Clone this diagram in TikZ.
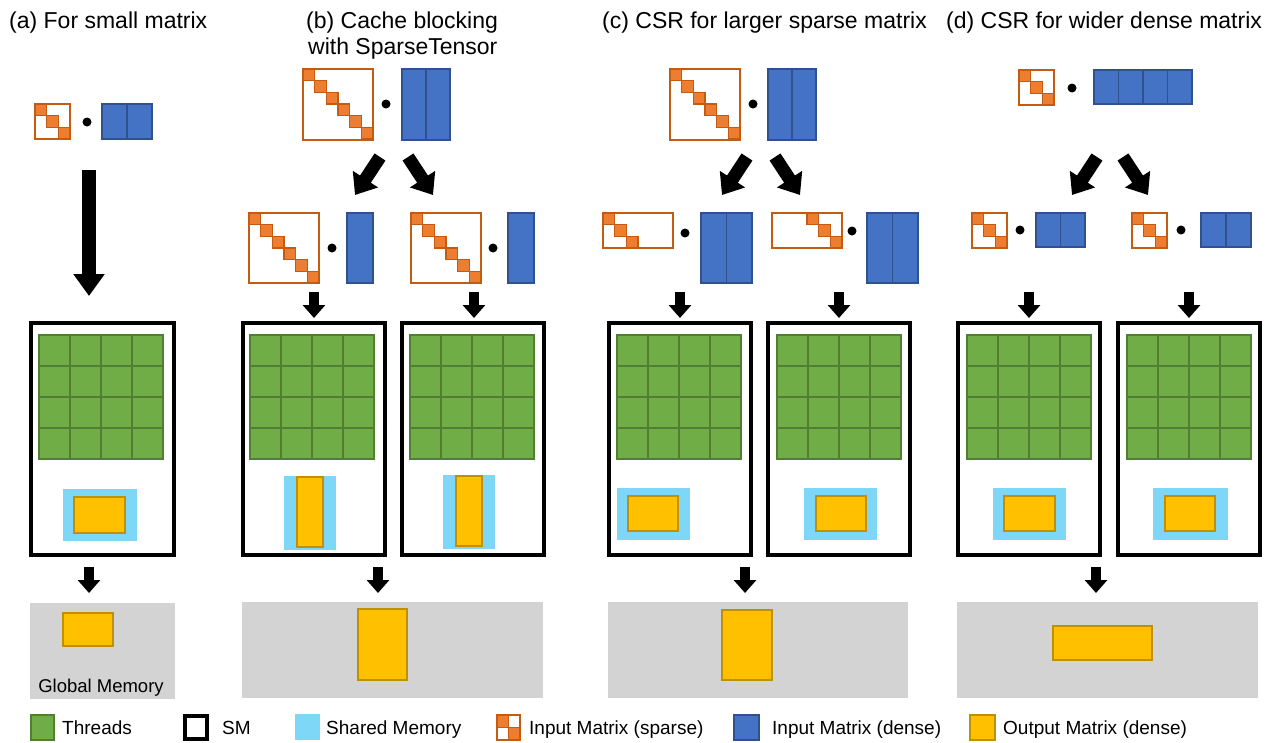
\documentclass[tikz,border=0pt]{standalone}
\usepackage{fontspec}
\setmainfont{Liberation Sans}
\usetikzlibrary{arrows.meta}
\definecolor{thrG}{HTML}{70AD47}
\definecolor{thrL}{HTML}{507E32}
\definecolor{shmC}{HTML}{7FD7F7}
\definecolor{outY}{HTML}{FFC000}
\definecolor{outL}{HTML}{BF9000}
\definecolor{inB}{HTML}{4472C4}
\definecolor{inL}{HTML}{2F528F}
\definecolor{spO}{HTML}{ED7D31}
\definecolor{spL}{HTML}{C55A11}
\definecolor{memG}{HTML}{D3D3D3}
\tikzset{
  sparseline/.style={draw=spL, line width=2pt, fill=white},
  sparseblk/.style={draw=spL, line width=1.5pt, fill=spO},
  densecol/.style={draw=inL, line width=1.5pt, fill=inB},
  thread/.style={draw=thrL, line width=1.7pt, fill=thrG},
  smbox/.style={draw=black, line width=4pt, fill=none, inner sep=0pt, outer sep=0pt, anchor=north west},
  shmem/.style={fill=shmC, draw=none},
  outmat/.style={fill=outY, draw=outL, line width=1.5pt},
  gmem/.style={fill=memG, draw=none},
  bigarrow/.style={line width=14pt, -{Triangle[width=30pt,length=22pt]}},
  diagarrow/.style={line width=13pt, -{Triangle[width=29pt,length=19pt]}},
  smallarrow/.style={line width=10pt, -{Triangle[width=22pt,length=13pt]}},
  ttl/.style={anchor=base west, inner sep=0pt, font=\fontsize{23}{27}\selectfont},
  lgd/.style={anchor=base west, inner sep=0pt, font=\fontsize{19}{23}\selectfont},
  dotn/.style={circle, fill=black, inner sep=0pt, minimum size=9pt},
}
% sparse matrix: x, y, w, h, list of col/row blocks
\newcommand\spmat[5]{%
  \draw[sparseline] (#1,#2) rectangle ++(#3,#4);
  \foreach \c/\r in {#5} \draw[sparseblk] ({#1+\c*11.67},{#2+\r*11.67}) rectangle ++(11.67,11.67);
}
% dense matrix: x, y, w, h, ncols
\newcommand\dmat[5]{%
  \foreach \k in {1,...,#5} \draw[densecol] ({#1+(\k-1)*#3/#5},#2) rectangle ++({#3/#5},#4);
}
% threads grid at x,y
\newcommand\tgrid[2]{%
  \foreach \i in {0,...,3} \foreach \j in {0,...,3}
    \draw[thread] ({#1+\i*31},{#2+\j*31}) rectangle ++(31,31);
}
\begin{document}
\begin{tikzpicture}[x=1pt,y=-1pt]
\useasboundingbox (0,0) rectangle (1276,742);
\fill[white] (0,0) rectangle (1276,742);

% ---------------- titles
\node[ttl] (ta) at (9,28) {(a) For small matrix};
\node[ttl] (tb1) at (306,28) {(b) Cache blocking};
\node[ttl] (tb2) at (308,54) {with SparseTensor};
\node[ttl] (tc) at (602,28) {(c) CSR for larger sparse matrix};
\node[ttl] (td) at (946,28) {(d) CSR for wider dense matrix};

% ---------------- (a)
\spmat{35}{104}{35}{35}{0/0,1/1,2/2}
\node[dotn] (da) at (87,122) {};
\dmat{102}{104}{50}{35}{2}
\draw[bigarrow] (89,170) -- (89,296);
\node[smbox, minimum width=143pt, minimum height=232pt] (smA) at (31,323) {};
\tgrid{39}{335}
\fill[shmem] (63,489) rectangle (137,541);
\draw[outmat] (74,497) rectangle (125,533);
\draw[smallarrow] (89,567) -- (89,593);
\fill[gmem] (30,603) rectangle (175,699);
\draw[outmat] (63,613) rectangle (113,646);
\node[anchor=base, inner sep=0pt, font=\fontsize{18.5}{22}\selectfont] (gm) at (101,692) {Global Memory};

% ---------------- (b)
\spmat{303}{69}{70}{71}{0/0,1/1,2/2,3/3,4/4,5/5}
\node[dotn] (db) at (386,104) {};
\dmat{402}{69}{48}{71}{2}
\draw[diagarrow] (380,157) -- (355,195);
\draw[diagarrow] (408,157) -- (433,195);
\spmat{249}{213}{70}{70}{0/0,1/1,2/2,3/3,4/4,5/5}
\node[dotn] (db1) at (332,248) {};
\dmat{347}{213}{26}{70}{1}
\spmat{411}{213}{70}{70}{0/0,1/1,2/2,3/3,4/4,5/5}
\node[dotn] (db2) at (493,248) {};
\dmat{508}{213}{26}{70}{1}
\draw[smallarrow] (314,292) -- (314,318);
\draw[smallarrow] (474,292) -- (474,318);
\node[smbox, minimum width=142pt, minimum height=232pt] (smB1) at (243,323) {};
\node[smbox, minimum width=142pt, minimum height=232pt] (smB2) at (402,323) {};
\tgrid{250}{335}
\tgrid{410}{335}
\fill[shmem] (284,476) rectangle (336,550);
\draw[outmat] (297,477) rectangle (323,547);
\fill[shmem] (443,475) rectangle (495,549);
\draw[outmat] (456,476) rectangle (482,546);
\draw[smallarrow] (378,567) -- (378,593);
\fill[gmem] (242,602) rectangle (543,698);
\draw[outmat] (358,609) rectangle (407,680);

% ---------------- (c)
\spmat{670}{69}{70}{71}{0/0,1/1,2/2,3/3,4/4,5/5}
\node[dotn] (dc) at (753,104) {};
\dmat{768}{69}{48}{71}{2}
\draw[diagarrow] (747,157) -- (722,195);
\draw[diagarrow] (775,157) -- (800,195);
\spmat{603}{213}{70}{35}{0/0,1/1,2/2}
\node[dotn] (dc1) at (685,233) {};
\dmat{701}{213}{51}{70}{2}
\spmat{772}{213}{70}{35}{3/0,4/1,5/2}
\node[dotn] (dc2) at (852,231) {};
\dmat{867}{213}{51}{70}{2}
\draw[smallarrow] (680,292) -- (680,318);
\draw[smallarrow] (839,292) -- (839,318);
\node[smbox, minimum width=142pt, minimum height=232pt] (smC1) at (609,323) {};
\node[smbox, minimum width=142pt, minimum height=232pt] (smC2) at (768,323) {};
\tgrid{617}{335}
\tgrid{777}{335}
\fill[shmem] (617,488) rectangle (690,540);
\draw[outmat] (628,496) rectangle (678,531);
\fill[shmem] (804,488) rectangle (877,540);
\draw[outmat] (816,496) rectangle (866,531);
\draw[smallarrow] (745,567) -- (745,593);
\fill[gmem] (608,602) rectangle (908,698);
\draw[outmat] (722,610) rectangle (772,680);

% ---------------- (d)
\spmat{1019}{70}{35}{35}{0/0,1/1,2/2}
\node[dotn] (dd) at (1072,88) {};
\dmat{1094}{70}{98}{34}{4}
\draw[diagarrow] (1097,157) -- (1072,195);
\draw[diagarrow] (1123,157) -- (1148,195);
\spmat{972}{213}{35}{35}{0/0,1/1,2/2}
\node[dotn] (dd1) at (1020,230) {};
\dmat{1036}{213}{49}{34}{2}
\spmat{1132}{213}{35}{35}{0/0,1/1,2/2}
\node[dotn] (dd2) at (1181,230) {};
\dmat{1201}{213}{50}{34}{2}
\draw[smallarrow] (1029,292) -- (1029,318);
\draw[smallarrow] (1189,292) -- (1189,318);
\node[smbox, minimum width=142pt, minimum height=232pt] (smD1) at (958,323) {};
\node[smbox, minimum width=142pt, minimum height=232pt] (smD2) at (1118,323) {};
\tgrid{967}{335}
\tgrid{1127}{335}
\fill[shmem] (993,488) rectangle (1066,540);
\draw[outmat] (1004,496) rectangle (1055,531);
\fill[shmem] (1153,488) rectangle (1228,540);
\draw[outmat] (1165,496) rectangle (1215,531);
\draw[smallarrow] (1096,567) -- (1096,593);
\fill[gmem] (957,602) rectangle (1258,698);
\draw[outmat] (1053,626) rectangle (1152,660);

% ---------------- legend
\draw[thread] (31,715) rectangle (54,740);
\node[lgd] (l1) at (62,734) {Threads};
\draw[line width=4pt] (185,716) rectangle (207,739);
\node[lgd] (l2) at (222,734) {SM};
\fill[shmem] (295,714) rectangle (320,740);
\node[lgd] (l3) at (326,734) {Shared Memory};
\draw[sparseline] (497,715) rectangle (520,740);
\draw[sparseblk] (497,715) rectangle (508.5,727.5);
\draw[sparseblk] (508.5,727.5) rectangle (520,740);
\draw[draw=spL, line width=1.5pt] (508.5,715) -- (508.5,740) (497,727.5) -- (520,727.5);
\node[lgd] (l4) at (529,734) {Input Matrix (sparse)};
\draw[densecol] (734,715) rectangle (759,740);
\node[lgd] (l5) at (772,734) {Input Matrix (dense)};
\draw[outmat] (970,715) rectangle (995,740);
\node[lgd] (l6) at (1003,734) {Output Matrix (dense)};
\end{tikzpicture}
\end{document}
